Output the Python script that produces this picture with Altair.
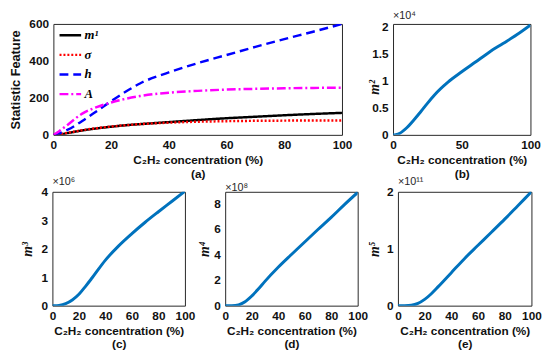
import altair as alt
import pandas as pd

# ---------------- data ----------------
x = [0, 2, 5, 10, 15, 20, 25, 30, 40, 50, 60, 70, 80, 90, 100]

m1 = [0, 2, 10, 24, 35, 44, 52, 58, 69, 80, 90, 98, 106, 113, 119]
sigma = [0, 3, 11, 25, 36, 45, 52, 58, 66, 71, 74, 76, 77, 78, 78]
h = [0, 8, 28, 75, 128, 182, 233, 278, 338, 388, 432, 476, 518, 558, 600]
A = [0, 20, 55, 115, 150, 175, 195, 210, 228, 238, 245, 249, 252, 254, 255]

m2 = [0, 0.005, 0.03, 0.13, 0.27, 0.42, 0.58, 0.73, 0.97, 1.16, 1.34, 1.52, 1.68, 1.84, 2.02]
m3 = [0, 0, 0.01, 0.07, 0.2, 0.4, 0.68, 0.98, 1.6, 2.1, 2.53, 2.93, 3.3, 3.66, 4.02]
m4 = [0, 0, 0.005, 0.06, 0.3, 0.75, 1.3, 1.9, 3.0, 4.0, 4.98, 5.95, 6.9, 7.9, 8.85]
m5 = [0, 0, 0.001, 0.008, 0.04, 0.11, 0.21, 0.33, 0.58, 0.83, 1.06, 1.29, 1.52, 1.76, 2.0]

series_names = ["m¹", "σ", "h", "A"]
series_colors = ["#000000", "#FF0000", "#0000FF", "#FF00FF"]
series_dashes = [[1, 0], [2, 2], [9, 5], [9, 3, 2, 3]]

XTITLE = "C₂H₂ concentration (%)"
FONT = "Liberation Sans"
SERIF = "Liberation Serif"
LBL = 12

# ---------------- panel (a) ----------------
rows = []
for name, vals in zip(series_names, [m1, sigma, h, A]):
    for xi, v in zip(x, vals):
        rows.append({"x": xi, "v": v, "s": name})
df_a = pd.DataFrame(rows)

leg = alt.Legend(
    title=None, orient="none", legendX=6, legendY=-1, padding=0,
    symbolType="stroke", symbolSize=484, symbolStrokeWidth=2.5,
    labelFont=SERIF, labelFontStyle="italic", labelFontWeight="bold",
    labelFontSize=13, labelColor="black", rowPadding=0, labelOffset=2,
)

panel_a = alt.Chart(df_a).mark_line(strokeWidth=2.5, interpolate="monotone", clip=True).encode(
    x=alt.X("x:Q", scale=alt.Scale(domain=[0, 100], nice=False),
            axis=alt.Axis(values=[0, 20, 40, 60, 80, 100], title=[XTITLE, "(a)"])),
    y=alt.Y("v:Q", scale=alt.Scale(domain=[0, 600], nice=False),
            axis=alt.Axis(values=[0, 200, 400, 600], title="Statistic Feature",
                          titleFontSize=13, titlePadding=4, minExtent=28)),
    color=alt.Color("s:N", scale=alt.Scale(domain=series_names, range=series_colors), legend=leg),
    strokeDash=alt.StrokeDash("s:N", scale=alt.Scale(domain=series_names, range=series_dashes), legend=leg),
).properties(width=294, height=113)


def small(vals, ymax, yticks, xticks, ytitle, mult, label, w, h, tx, ext, ty=None):
    df = pd.DataFrame({"x": x, "v": vals})
    yaxis_kw = dict(values=yticks, format="~g", title=ytitle,
                    titleFont=SERIF, titleFontStyle="italic", titleFontSize=14,
                    titleX=tx, minExtent=ext)
    if ty is not None:
        yaxis_kw["titleY"] = ty
    return alt.Chart(
        df,
        title=alt.TitleParams(mult, anchor="start", frame="group", fontSize=11,
                              fontWeight="normal", font=FONT, color="#262626", offset=-1),
    ).mark_line(color="#0072BD", strokeWidth=3, interpolate="monotone", clip=True).encode(
        x=alt.X("x:Q", scale=alt.Scale(domain=[0, 100], nice=False),
                axis=alt.Axis(values=xticks, title=[XTITLE, label])),
        y=alt.Y("v:Q", scale=alt.Scale(domain=[0, ymax], nice=False),
                axis=alt.Axis(**yaxis_kw)),
    ).properties(width=w, height=h)


xt20 = [0, 20, 40, 60, 80, 100]
panel_b = small(m2, 2.04, [0, 0.5, 1, 1.5, 2], [0, 50, 100], "m²", "×10⁴", "(b)", 140, 113, -12, 20, 64)
panel_c = small(m3, 4.0, [0, 1, 2, 3, 4], xt20, "m³", "×10⁶", "(c)", 135, 116, -18, 28)
panel_d = small(m4, 8.9, [0, 2, 4, 6, 8], xt20, "m⁴", "×10⁸", "(d)", 135, 116, -14, 16)
panel_e = small(m5, 2.0, [0, 1, 2], xt20, "m⁵", "×10¹¹", "(e)", 136, 116, -17, 16)

top = alt.hconcat(panel_a, panel_b, spacing=52, bounds="flush")
bottom = alt.hconcat(panel_c, panel_d, panel_e, spacing=41, bounds="flush")

chart = alt.vconcat(top, bottom, spacing=-5, bounds="full", center=True).properties(
    padding={"left": 0, "top": -2, "right": 0, "bottom": 0}
).configure_axis(
    labelFont=FONT, labelFontWeight="bold", labelFontSize=LBL, labelColor="#111111",
    titleFont=FONT, titleFontWeight="bold", titleFontSize=LBL, titleColor="#111111",
    domain=False, ticks=False, grid=False, labelPadding=5, titleLineHeight=14,
    titlePadding=4, labelFlush=False,
).configure_view(
    stroke="#262626", strokeWidth=1,
)

chart.save("out.html", embed_options={"renderer": "svg", "actions": False})
